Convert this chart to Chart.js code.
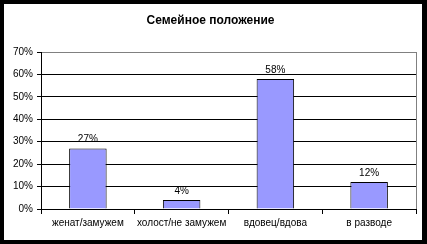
<!DOCTYPE html>
<html>
<head>
<meta charset="utf-8">
<script src="https://cdn.jsdelivr.net/npm/chart.js@4/dist/chart.umd.min.js"></script>
<style>
html,body{margin:0;padding:0;background:#fff;}
canvas{display:block;}
</style>
</head>
<body>
<canvas id="c" width="427" height="244"></canvas>
<script>
const chartTitle = 'Семейное положение';
const categories = ['женат/замужем', 'холост/не замужем', 'вдовец/вдова', 'в разводе'];
const values = [27, 4, 58, 12];
const yMin = 0, yMax = 70, yStep = 10;

const FONT = 'Liberation Sans, Arial, sans-serif';

const framePlugin = {
  id: 'frame',
  beforeDraw(chart) {
    const ctx = chart.ctx;
    ctx.save();
    ctx.fillStyle = '#000';
    ctx.fillRect(0, 0, chart.width, chart.height);
    ctx.fillStyle = '#fff';
    ctx.fillRect(4, 4, 418, 236);
    ctx.restore();
  },
  afterDatasetsDraw(chart) {
    const ctx = chart.ctx;
    const a = chart.chartArea;
    ctx.save();
    ctx.strokeStyle = '#808080';
    ctx.lineWidth = 1;
    ctx.beginPath();
    ctx.moveTo(Math.round(a.right) + 0.5, a.top);
    ctx.lineTo(Math.round(a.right) + 0.5, a.bottom);
    ctx.stroke();
    // data labels
    ctx.fillStyle = '#000';
    ctx.font = '10px ' + FONT;
    ctx.textAlign = 'center';
    ctx.textBaseline = 'alphabetic';
    const meta = chart.getDatasetMeta(0);
    meta.data.forEach((el, i) => {
      ctx.fillText(values[i] + '%', el.x, el.y - 6);
    });
    ctx.restore();
  }
};

new Chart(document.getElementById('c'), {
  type: 'bar',
  data: {
    labels: categories,
    datasets: [{
      data: values,
      backgroundColor: '#9999FF',
      borderColor: '#000',
      borderWidth: 1,
      barPercentage: 0.4,
      categoryPercentage: 1
    }]
  },
  options: {
    responsive: false,
    devicePixelRatio: 1,
    animation: false,
    layout: { padding: { left: 5, right: 11, top: 0, bottom: 0 } },
    plugins: {
      legend: { display: false },
      tooltip: { enabled: false },
      title: {
        display: true,
        text: chartTitle,
        color: '#000',
        font: { family: FONT, size: 12, weight: 'bold' },
        padding: { top: 13, bottom: 24.6 }
      }
    },
    scales: {
      x: {
        afterFit(s) { s.height = 35; },
        grid: { drawOnChartArea: false, drawTicks: true, tickLength: 5, color: '#000', offset: true },
        border: { color: '#000' },
        ticks: { color: '#000', padding: 3, font: { family: FONT, size: 10 }, maxRotation: 0, autoSkip: false }
      },
      y: {
        min: yMin,
        max: yMax,
        afterFit(s) { s.width = 36; },
        grid: {
          color: c => (c.tick && c.tick.value === yMax) ? '#808080' : '#000',
          tickColor: '#000',
          tickLength: 4
        },
        border: { color: '#000' },
        ticks: {
          stepSize: yStep,
          color: '#000',
          padding: 4,
          font: { family: FONT, size: 10 },
          callback: v => v + '%'
        }
      }
    }
  },
  plugins: [framePlugin]
});
</script>
</body>
</html>
